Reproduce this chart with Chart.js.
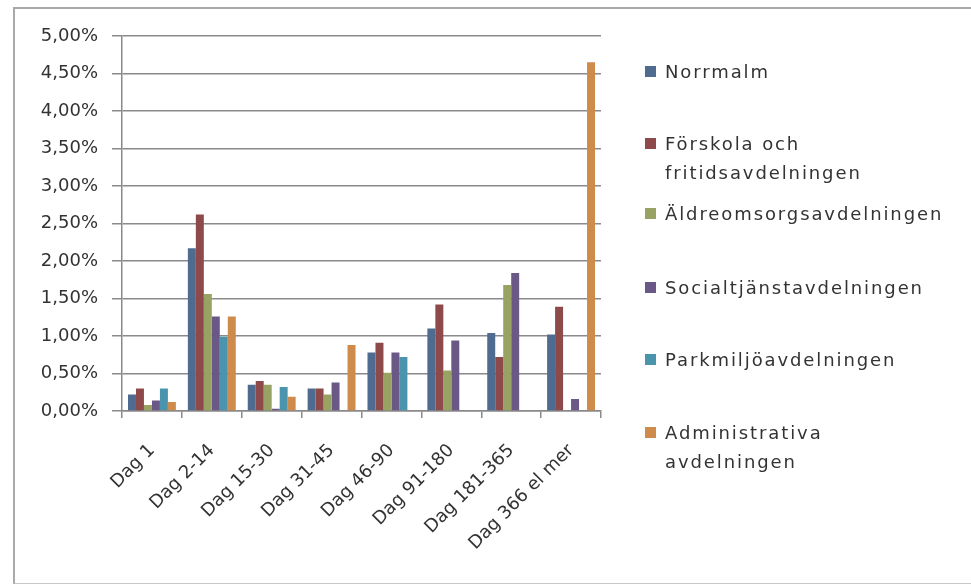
<!DOCTYPE html>
<html>
<head>
<meta charset="utf-8">
<script src="https://cdn.jsdelivr.net/npm/chart.js@4"></script>
<style>
    html, body { margin: 0; padding: 0; background: #fff; }
    #wrap { position: relative; width: 971px; height: 584px; overflow: hidden; }
    #frame {
        position: absolute; left: 13px; top: 7px; width: 990px; height: 574px;
        border-left: 2px solid #a9a9a9; border-top: 2px solid #a9a9a9; border-bottom: 2px solid #c8c8c8;
    }
    #chart { position: absolute; left: 0; top: 0; }
    #legend {
        position: absolute; left: 645px; top: 0; width: 310px;
        font-family: "DejaVu Sans", sans-serif; font-size: 18px; color: #333;
        letter-spacing: 1.9px;
    }
    .item { position: absolute; left: 0; width: 310px; line-height: 29px; }
    .box { position: absolute; left: 0; top: 9px; width: 11px; height: 11px; }
    .txt { position: absolute; left: 20px; width: 290px; }
</style>
</head>
<body>
<div id="wrap">
    <div id="frame"></div>
    <canvas id="chart" width="971" height="584"></canvas>
    <div id="legend"></div>
</div>
<script>
const categories = ["Dag 1", "Dag 2-14", "Dag 15-30", "Dag 31-45", "Dag 46-90", "Dag 91-180", "Dag 181-365", "Dag 366 el mer"];

const seriesNames = ["Norrmalm", "Förskola och fritidsavdelningen", "Äldreomsorgsavdelningen",
    "Socialtjänstavdelningen", "Parkmiljöavdelningen", "Administrativa avdelningen"];

const norrmalm      = [0.22, 2.17, 0.35, 0.30, 0.78, 1.10, 1.04, 1.02];
const forskola      = [0.30, 2.62, 0.40, 0.30, 0.91, 1.42, 0.72, 1.39];
const aldreomsorg   = [0.08, 1.56, 0.35, 0.22, 0.51, 0.54, 1.68, null];
const socialtjanst  = [0.14, 1.26, 0.03, 0.38, 0.78, 0.94, 1.84, 0.16];
const parkmiljo     = [0.30, 0.99, 0.32, null, 0.72, null, null, null];
const administrativ = [0.12, 1.26, 0.19, 0.88, null, null, null, 4.65];

const colors = ["#4f6b8f", "#8e4a4b", "#98a263", "#6a5887", "#4a94ae", "#cf8b4c"];
const yTicks = [0, 0.5, 1, 1.5, 2, 2.5, 3, 3.5, 4, 4.5, 5];

const allSeries = [norrmalm, forskola, aldreomsorg, socialtjanst, parkmiljo, administrativ];

const datasets = allSeries.map((values, i) => ({
    label: seriesNames[i],
    data: values,
    backgroundColor: colors[i],
    borderWidth: 0,
    categoryPercentage: 0.8,
    barPercentage: 1.0
}));

const yFont = { family: "DejaVu Sans", size: 18 };
const xFont = { family: "DejaVu Sans", size: 18 };

const ctx = document.getElementById("chart").getContext("2d");
const chart = new Chart(ctx, {
    type: "bar",
    data: { labels: categories, datasets: datasets },
    options: {
        responsive: false,
        animation: false,
        layout: { padding: { left: 14, right: 370, top: 36, bottom: 0 } },
        plugins: { legend: { display: false }, tooltip: { enabled: false } },
        scales: {
            x: {
                grid: { display: true, drawOnChartArea: false, drawTicks: true, tickLength: 7, color: "#8a8a8a", lineWidth: 1.5 },
                border: { color: "#8a8a8a", width: 1.5 },
                ticks: { color: "#333", font: xFont, minRotation: 45, maxRotation: 45, padding: 22 },
                afterFit: s => { s.height = 173; }
            },
            y: {
                min: 0,
                max: 5,
                afterBuildTicks: s => { s.ticks = yTicks.map(v => ({ value: v })); },
                grid: { color: "#8a8a8a", lineWidth: 1.5, tickLength: 10 },
                border: { color: "#8a8a8a", width: 1.5 },
                ticks: {
                    color: "#333",
                    font: yFont,
                    padding: 14,
                    callback: v => v.toFixed(2).replace(".", ",") + "%"
                },
                afterFit: s => { s.width = 108; }
            }
        }
    }
});

// legend as plain text next to the chart
const legendTops = [57, 129, 199, 273, 345, 418];
const legend = document.getElementById("legend");
seriesNames.forEach((name, i) => {
    const item = document.createElement("div");
    item.className = "item";
    item.style.top = legendTops[i] + "px";
    const box = document.createElement("div");
    box.className = "box";
    box.style.background = colors[i];
    const txt = document.createElement("div");
    txt.className = "txt";
    txt.innerText = name;
    item.appendChild(box);
    item.appendChild(txt);
    legend.appendChild(item);
});
</script>
</body>
</html>
